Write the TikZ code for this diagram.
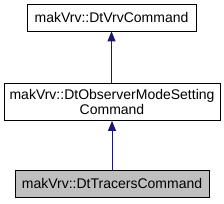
\documentclass[tikz,border=0pt]{standalone}
\usepackage{fontspec}
\setmainfont{Liberation Sans}
\usetikzlibrary{arrows.meta}
\definecolor{edgeblue}{HTML}{191970}
\definecolor{hlgray}{HTML}{BFBFBF}
\tikzset{
  classbox/.style={draw=black, line width=0.8pt, fill=white, inner sep=0pt, align=center,
    font=\fontsize{14}{14.5}\selectfont},
  hlbox/.style={classbox, fill=hlgray},
  inherit/.style={draw=edgeblue, line width=1pt, -{Triangle[length=10pt,width=8pt]}, color=edgeblue}
}
\begin{document}
\begin{tikzpicture}[x=1pt,y=-1pt]
\useasboundingbox (0,0) rectangle (224,203);
\node[classbox, minimum width=169pt, minimum height=26.5pt] (top) at (111.5,17.75) {makVrv::DtVrvCommand};
\node[classbox, minimum width=216pt, minimum height=37pt] (mid) at (112,102) {makVrv::DtObserverModeSetting\\Command};
\node[hlbox, minimum width=194pt, minimum height=27pt] (bot) at (112,183.5) {makVrv::DtTracersCommand};
\draw[inherit] (mid.north -| top.south) -- (top.south);
\draw[inherit] (bot.north) -- (bot.north |- mid.south);
\end{tikzpicture}
\end{document}
